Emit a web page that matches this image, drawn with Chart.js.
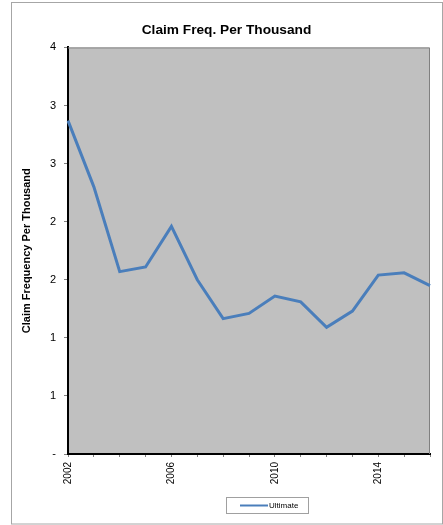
<!DOCTYPE html>
<html>
<head>
<meta charset="utf-8">
<script src="https://cdn.jsdelivr.net/npm/chart.js@4.4.0/dist/chart.umd.min.js"></script>
<style>
    html, body { margin: 0; padding: 0; background: #fff; }
    #caixa { width: 443px; height: 525px; }
</style>
</head>
<body>
<div id="caixa"><canvas id="graficoFrequencia" width="443" height="525"></canvas></div>
<script>
const anos = ['2002', '2003', '2004', '2005', '2006', '2007', '2008', '2009',
              '2010', '2011', '2012', '2013', '2014', '2015', '2016'];

const ultimate = [2.87, 2.30, 1.57, 1.61, 1.96, 1.50, 1.165, 1.21,
                  1.36, 1.31, 1.09, 1.23, 1.54, 1.56, 1.45];

// rotulos do eixo Y (formato inteiro arredondado, zero vira "-")
const rotulosY = ['-', '1', '1', '2', '2', '3', '3', '4'];

const fonte = 'Liberation Sans, Arial, sans-serif';

// fundo cinza da area de plotagem + bordas superior/direita
const fundoPlot = {
    id: 'fundoPlot',
    beforeDraw(chart) {
        const { ctx, chartArea: a } = chart;
        ctx.save();
        ctx.fillStyle = '#c0c0c0';
        ctx.fillRect(a.left, a.top, a.right - a.left, a.bottom - a.top);
        ctx.restore();
    },
    beforeDatasetsDraw(chart) {
        const { ctx, chartArea: a } = chart;
        ctx.save();
        ctx.strokeStyle = '#808080';
        ctx.lineWidth = 1;
        ctx.beginPath();
        ctx.moveTo(a.left, a.top + 0.5);
        ctx.lineTo(a.right - 0.5, a.top + 0.5);
        ctx.lineTo(a.right - 0.5, a.bottom);
        ctx.stroke();
        ctx.restore();
    },
    afterDraw(chart) {
        const ctx = chart.ctx;
        ctx.save();
        // moldura externa
        ctx.strokeStyle = '#a6a6a6';
        ctx.lineWidth = 1;
        ctx.strokeRect(11.5, 2.5, 431, 521.5);

        // legenda com caixa
        const ds = chart.data.datasets[0];
        ctx.strokeStyle = '#a0a0a0';
        ctx.strokeRect(226.5, 497.5, 82, 16);
        ctx.strokeStyle = ds.borderColor;
        ctx.lineWidth = 2;
        ctx.beginPath();
        ctx.moveTo(240, 505.5);
        ctx.lineTo(268, 505.5);
        ctx.stroke();
        ctx.fillStyle = '#000';
        ctx.font = '8px ' + fonte;
        ctx.textBaseline = 'middle';
        ctx.fillText(ds.label, 269, 506);
        ctx.restore();
    }
};

const ctx = document.getElementById('graficoFrequencia');

new Chart(ctx, {
    type: 'line',
    data: {
        labels: anos,
        datasets: [
            {
                label: 'Ultimate',
                data: ultimate,
                borderColor: '#4a7ebb',
                backgroundColor: '#4a7ebb',
                borderWidth: 3,
                pointRadius: 0,
                tension: 0
            }
        ]
    },
    options: {
        responsive: false,
        animation: false,
        devicePixelRatio: 1,
        layout: {
            padding: { top: 14, left: 23, right: 13, bottom: 30 }
        },
        plugins: {
            legend: { display: false },
            tooltip: { enabled: false },
            title: {
                display: true,
                text: 'Claim Freq. Per Thousand',
                color: '#000',
                font: { family: fonte, size: 13.7, weight: 'bold' },
                padding: { top: 8, bottom: 9 }
            }
        },
        scales: {
            x: {
                offset: false,
                grid: {
                    drawOnChartArea: false,
                    drawTicks: true,
                    tickLength: 3,
                    color: '#808080'
                },
                border: { display: true, color: '#000', width: 2 },
                ticks: {
                    autoSkip: false,
                    minRotation: 90,
                    maxRotation: 90,
                    padding: 5,
                    color: '#000',
                    font: { family: fonte, size: 10 },
                    callback: (v, i) => (i % 4 === 0 ? anos[i] : '')
                },
                afterFit(scale) {
                    scale.height = 41;
                    scale.paddingLeft = 0;
                    scale.paddingRight = 0;
                }
            },
            y: {
                min: 0,
                max: 3.5,
                grid: {
                    drawOnChartArea: false,
                    drawTicks: true,
                    tickLength: 4,
                    color: '#808080'
                },
                border: { display: true, color: '#000', width: 2 },
                ticks: {
                    stepSize: 0.5,
                    padding: 8,
                    color: '#000',
                    font: { family: fonte, size: 11 },
                    callback: (v, i) => rotulosY[i]
                },
                title: {
                    display: true,
                    text: 'Claim Frequency Per Thousand',
                    color: '#000',
                    font: { family: fonte, size: 11, weight: 'bold' },
                    padding: { top: -3, bottom: 0 }
                },
                afterFit(scale) { scale.width = 45; }
            }
        }
    },
    plugins: [fundoPlot]
});
</script>
</body>
</html>
